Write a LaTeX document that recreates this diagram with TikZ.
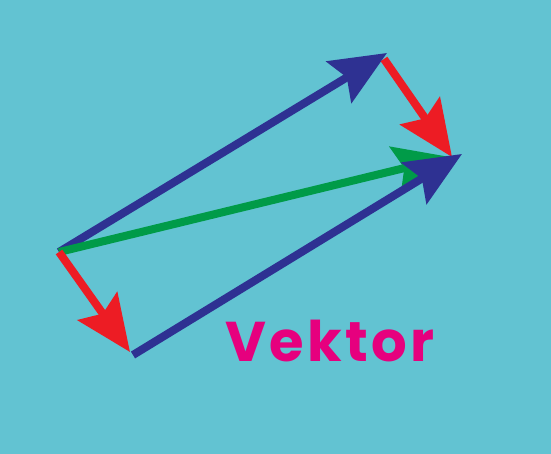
\documentclass[tikz,border=0pt]{standalone}
\usepackage{fontspec}
\setmainfont{Poppins}
\usetikzlibrary{arrows.meta}
\definecolor{bgcyan}{RGB}{98,195,210}
\definecolor{vblue}{RGB}{46,49,146}
\definecolor{vred}{RGB}{237,28,36}
\definecolor{vgreen}{RGB}{0,155,72}
\definecolor{vpink}{RGB}{230,0,126}
\tikzset{
  vec/.style={-{Stealth[length=56pt, width=48pt, inset=9pt]}, line width=8pt},
  vblue/.style={vec, draw=vblue, fill=vblue},
  vred/.style={vec, draw=vred, fill=vred},
  vgreen/.style={vec, draw=vgreen, fill=vgreen},
  title/.style={text=vpink, font=\fontsize{56}{60}\selectfont\bfseries\addfontfeature{LetterSpace=6}},
}
\begin{document}
\begin{tikzpicture}[x=1pt, y=1pt]
    \fill[bgcyan] (0,0) rectangle (551,454);
    \coordinate (a) at (59,202);
    \coordinate (b) at (387,401);
    \coordinate (bs) at (384,395);
    \coordinate (c) at (452,297);
    \coordinate (cg) at (450,297);
    \coordinate (cb) at (462,300);
    \coordinate (d) at (130,102);
    \coordinate (ds) at (133,99);
    \draw[vblue] (a) -- (b);
    \draw[vgreen] (a) -- (cg);
    \draw[vred] (bs) -- (c);
    \draw[vblue] (ds) -- (cb);
    \draw[vred] (a) -- (d);
    \node[title, anchor=base] (label) at (330,92) {Vektor};
  \end{tikzpicture}
\end{document}
